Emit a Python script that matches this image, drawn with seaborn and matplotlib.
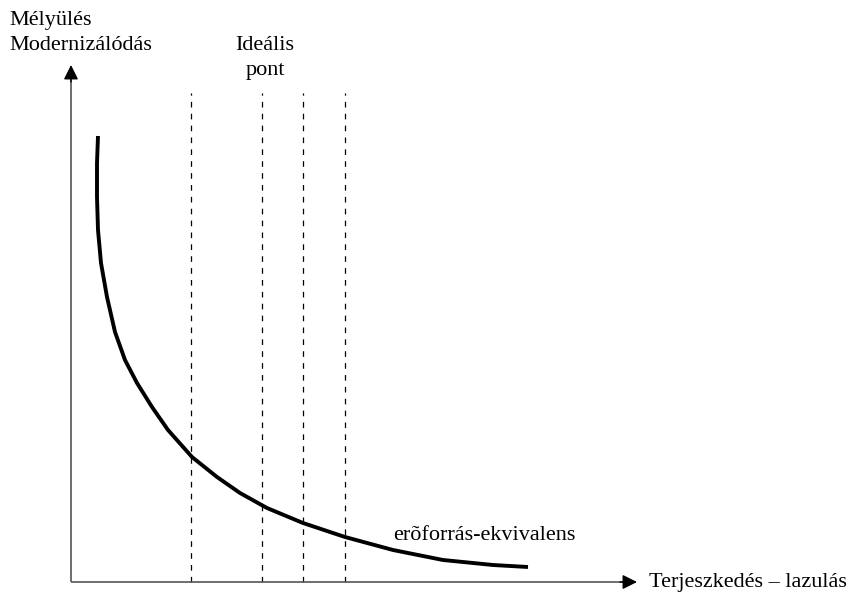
import matplotlib
matplotlib.use("Agg")
import matplotlib.pyplot as plt
import seaborn as sns
import pandas as pd

# Curve ("erõforrás-ekvivalens")
curve_x = [27, 26, 26, 27, 30, 36, 44, 54, 66, 81, 97, 121, 146, 169, 196,
           232, 274, 322, 372, 422, 457]
curve_y = [446, 419, 385, 352, 319, 285, 250, 222, 199, 175, 152, 125, 105, 89, 74,
           59, 45, 32, 22, 17, 15]

# Dashed vertical lines
dashed_x = [120, 191, 232, 274]
dashed_top = 489

y_label_lines = ["Mélyülés", "Modernizálódás"]
x_label = "Terjeszkedés – lazulás"
ideal_lines = ["Ideális", "pont"]
curve_label = "erõforrás-ekvivalens"

sns.set_theme(style="white")
plt.rcParams['font.family'] = ['Liberation Serif', 'DejaVu Serif']

fig = plt.figure(figsize=(8.52, 5.98), dpi=100)
ax = fig.add_axes([0, 0, 1, 1])
ax.set_xlim(-71, 781)
ax.set_ylim(-16, 582)
ax.axis("off")

df = pd.DataFrame({"x": curve_x, "y": curve_y})
sns.lineplot(data=df, x="x", y="y", sort=False, estimator=None,
             color="black", linewidth=2.8, ax=ax)
for line in ax.lines:
    line.set_solid_joinstyle("round")
    line.set_solid_capstyle("butt")

for xv in dashed_x:
    ax.plot([xv, xv], [0, dashed_top], color="black", linewidth=0.9,
            linestyle=(0, (4.5, 5)))

# axes with arrows
ax.plot([0, 0], [0, 505], color="#555555", lw=1.2, solid_capstyle="butt")
ax.plot([0, 555], [0, 0], color="#555555", lw=1.2, solid_capstyle="butt")
ax.annotate("", xy=(0, 517), xytext=(0, 500),
            arrowprops=dict(arrowstyle="-|>", color="black", lw=1.0,
                            mutation_scale=22, shrinkA=0, shrinkB=0))
ax.annotate("", xy=(566, 0), xytext=(549, 0),
            arrowprops=dict(arrowstyle="-|>", color="black", lw=1.0,
                            mutation_scale=22, shrinkA=0, shrinkB=0))

fs = 16
ax.text(-62, 557, y_label_lines[0], fontsize=fs, ha="left", va="baseline", color="black")
ax.text(-62, 532, y_label_lines[1], fontsize=fs, ha="left", va="baseline", color="black")
ax.text(194, 532, ideal_lines[0], fontsize=fs, ha="center", va="baseline", color="black")
ax.text(194, 507, ideal_lines[1], fontsize=fs, ha="center", va="baseline", color="black")
ax.text(322, 47, curve_label, fontsize=fs, ha="left", va="center", color="black")
ax.text(578, 0, x_label, fontsize=fs, ha="left", va="center", color="black")

fig.savefig("out.png", dpi=100)
